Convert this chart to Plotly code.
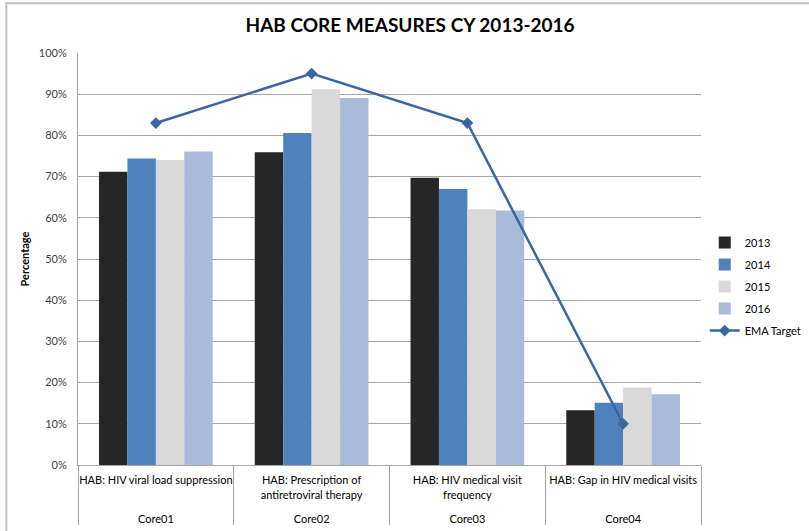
import plotly.graph_objects as go

codes = ["Core01", "Core02", "Core03", "Core04"]
measures = ["HAB: HIV viral load suppression<br> <br> ",
            "HAB: Prescription of<br>antiretroviral therapy<br> ",
            "HAB: HIV medical visit<br>frequency<br> ",
            "HAB: Gap in HIV medical visits<br> <br> "]
years = ["2013", "2014", "2015", "2016"]
v2013 = [0.712, 0.759, 0.697, 0.133]
v2014 = [0.744, 0.806, 0.670, 0.151]
v2015 = [0.740, 0.912, 0.621, 0.188]
v2016 = [0.761, 0.891, 0.618, 0.172]
ema_target = [0.83, 0.95, 0.83, 0.10]

colors = ["#262626", "#4F81BD", "#D9D9D9", "#A9BADA"]
line_color = "#3A67A2"
FONT = "Lato, Calibri, Liberation Sans, sans-serif"

x = [codes, measures]
fig = go.Figure()
for name, vals, c in zip(years, [v2013, v2014, v2015, v2016], colors):
    fig.add_trace(go.Bar(x=x, y=vals, name=name, legendgroup=name,
                         marker=dict(color=c, line=dict(width=0))))
fig.add_trace(go.Scatter(x=x, y=ema_target, name="EMA Target", legendgroup="ema",
                         mode="lines+markers",
                         line=dict(color=line_color, width=2.5),
                         marker=dict(symbol="diamond", size=9, color=line_color)))

fig.update_layout(
    width=809, height=531,
    margin=dict(l=78, r=108, t=53, b=66, autoexpand=False),
    paper_bgcolor="white", plot_bgcolor="white",
    font=dict(family=FONT, size=11, color="#262626"),
    title=dict(text="<b>HAB CORE MEASURES CY 2013-2016</b>", x=0.533, xanchor="center",
               xref="paper", y=0.952, yanchor="middle", font=dict(size=19, color="#000000")),
    barmode="group", bargap=0.27, bargroupgap=0,
    legend=dict(x=1.006, y=0.433, xanchor="left", yanchor="middle",
                font=dict(size=11, color="#000000"), traceorder="grouped",
                tracegroupgap=3, itemwidth=30, bgcolor="rgba(0,0,0,0)"),
    showlegend=True,
)
fig.update_yaxes(range=[0, 1.0], dtick=0.1, tickformat=".0%", showgrid=True,
                 gridcolor="#A6A6A6", gridwidth=1, showline=True, linecolor="#A6A6A6",
                 linewidth=1, zeroline=False, ticklabelstandoff=8,
                 title=dict(text="<b>Percentage</b>", font=dict(size=11, color="#000000"), standoff=6),
                 tickfont=dict(size=11, color="#404040"))
fig.update_xaxes(type="multicategory", showline=True, linecolor="#A6A6A6", linewidth=1,
                 showdividers=True, dividercolor="#A6A6A6", dividerwidth=1, tickangle=0,
                 ticklabelstandoff=5,
                 tickfont=dict(size=11, color="#000000"), automargin=False)

fig.add_shape(type="rect", xref="paper", yref="paper", x0=-0.115, x1=1.2, y0=-0.25, y1=1.121,
              line=dict(color="#C0C0C0", width=2), fillcolor="rgba(0,0,0,0)", layer="below")

fig.write_html("out.html", config={"displayModeBar": False},
               post_script="document.body.style.margin='0';")
